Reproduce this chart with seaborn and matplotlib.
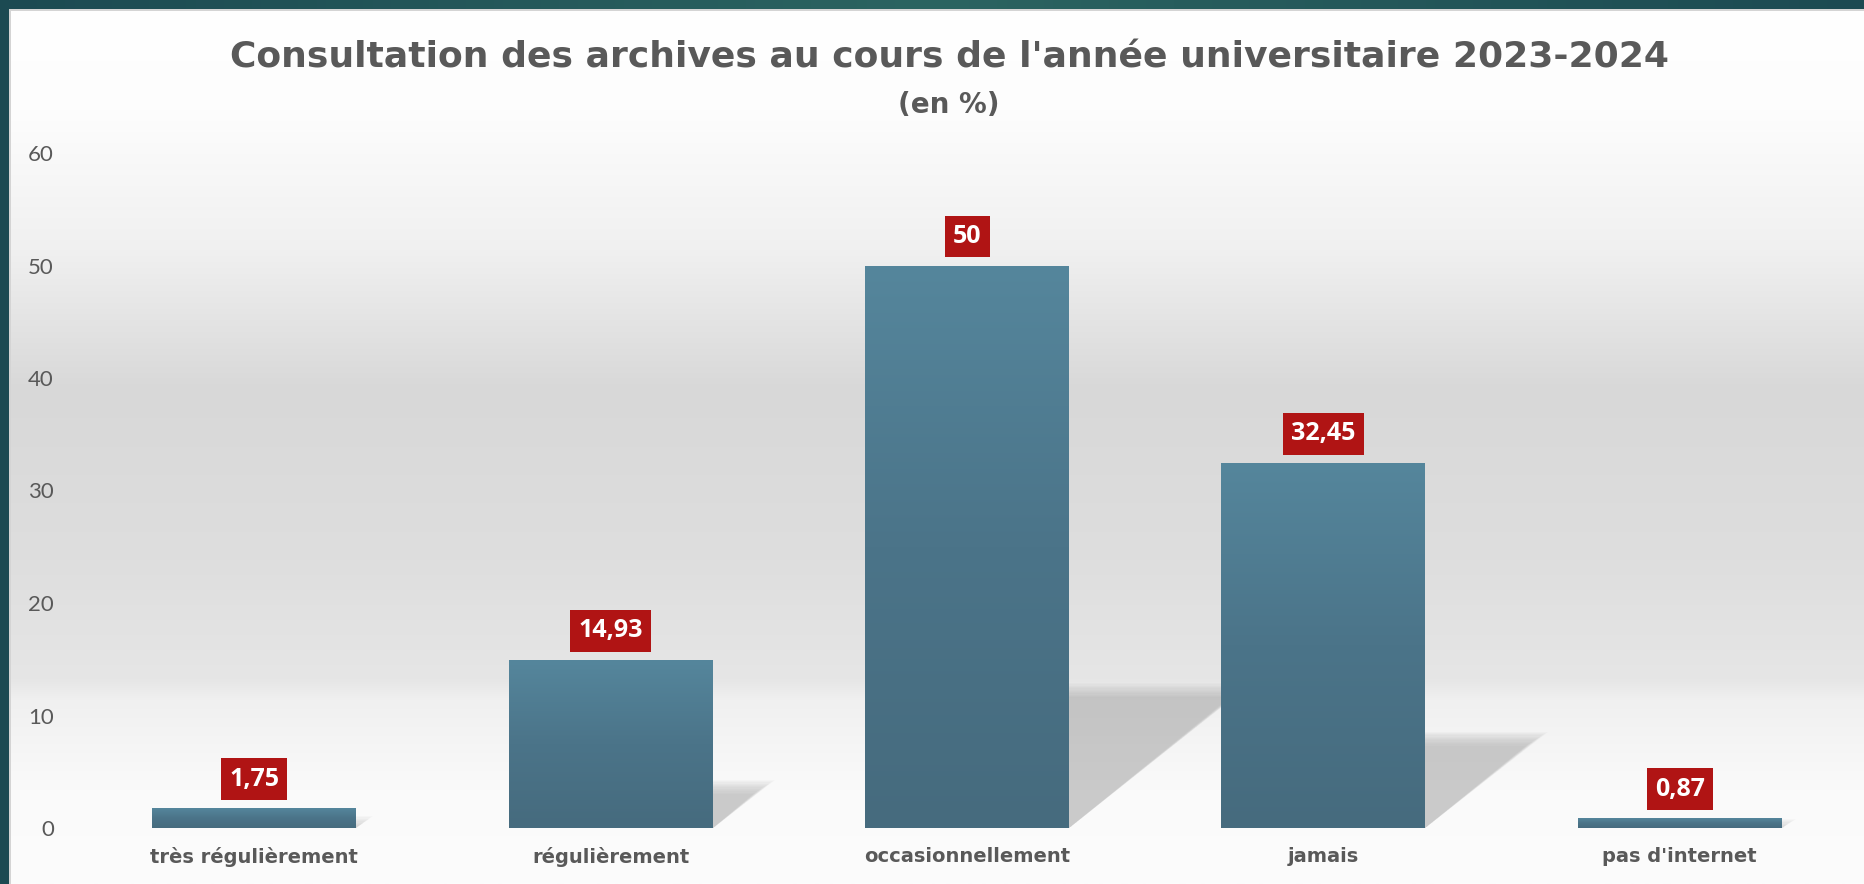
import numpy as np
import pandas as pd
import matplotlib
matplotlib.use("Agg")
import matplotlib.pyplot as plt
import seaborn as sns
from matplotlib.patches import Rectangle, Polygon
from matplotlib.colors import LinearSegmentedColormap

categories = ["très régulièrement", "régulièrement", "occasionnellement", "jamais", "pas d'internet"]
values = [1.75, 14.93, 50, 32.45, 0.87]
title = "Consultation des archives au cours de l'année universitaire 2023-2024"
subtitle = "(en %)"
yticks = [0, 10, 20, 30, 40, 50, 60]

df = pd.DataFrame({"cat": categories, "val": values})

sns.set_theme(style="white")
plt.rcParams["font.family"] = ["DejaVu Sans"]

W, H = 1864, 884
fig = plt.figure(figsize=(W / 100, H / 100), dpi=100)

# background gradient
bg = fig.add_axes([0, 0, 1, 1], zorder=0)
bg.set_axis_off()
ys = np.array([0, 10, 110, 250, 390, 560, 680, 700, 790, 884]) / H
gs = np.array([255, 255, 253, 240, 216, 222, 230, 240, 250, 252]) / 255
yy = np.linspace(0, 1, 600)
col = np.interp(yy, ys, gs)
img = np.repeat(col[:, None], 2, axis=1)
bg.imshow(np.dstack([img, img, img]), aspect="auto", extent=[0, 1, 1, 0], interpolation="bilinear")
# dark frame top and left
frame = LinearSegmentedColormap.from_list("fr", ["#1c4a52", "#2b6461", "#1c4a52"])
fx = np.linspace(0, 1, 200)[None, :]
bg.imshow(fx, cmap=frame, aspect="auto", extent=[0, 1, 9 / H, 0], zorder=3)
bg.add_patch(Rectangle((0, 0), 9 / W, 1, color="#1c4a52", zorder=3, lw=0))
bg.add_patch(Rectangle((9 / W, 9 / H), 1, 2 / H, color="#d4d4d4", zorder=2, lw=0))
bg.add_patch(Rectangle((9 / W, 9 / H), 2 / W, 1, color="#d4d4d4", zorder=2, lw=0))
bg.set_xlim(0, 1)
bg.set_ylim(1, 0)

ax_left, ax_right, ax_bottom, ax_top = 76, 1858, 828, 153
ax = fig.add_axes([ax_left / W, 1 - ax_bottom / H, (ax_right - ax_left) / W, (ax_bottom - ax_top) / H], zorder=1)
ax.patch.set_alpha(0)

sns.barplot(data=df, x="cat", y="val", ax=ax, width=0.572, color="#4f7e93", saturation=1)
ax.set_xlim(-0.5, len(categories) - 0.5)
ax.set_ylim(0, 60)

px_per_x = (ax_right - ax_left) / len(categories)
px_per_y = (ax_bottom - ax_top) / 60

grad = LinearSegmentedColormap.from_list("bar", ["#466b7e", "#4b7489", "#55869c"])
gimg = np.linspace(0, 1, 256)[:, None]

bars = list(ax.patches)
for p, v in zip(bars, values):
    x0, w = p.get_x(), p.get_width()
    # blurred perspective shadow
    h_shadow = 0.245 * v
    dx = 1.25 * h_shadow * px_per_y / px_per_x
    for k in np.linspace(7, -7, 12):
        gy = k / px_per_y
        gx = k / px_per_x
        top = max(h_shadow + gy, 0)
        poly = Polygon([(x0 + w, 0), (x0 + w, top), (x0 + w + dx + gx * 1.6, top)],
                       closed=True, facecolor="#a0a0a0", edgecolor="none", alpha=0.055, zorder=1)
        ax.add_patch(poly)
    # gradient fill
    p.set_facecolor("none")
    p.set_edgecolor("none")
    im = ax.imshow(gimg, cmap=grad, aspect="auto", extent=[x0, x0 + w, 0, v],
                   origin="lower", zorder=2, interpolation="bilinear")
    im.set_clip_path(p)
    ax.set_xlim(-0.5, len(categories) - 0.5)
    ax.set_ylim(0, 60)

for i, v in enumerate(values):
    lab = f"{v:g}".replace(".", ",")
    ax.annotate(lab, xy=(i, v), xytext=(0, 21), textcoords="offset points",
                ha="center", va="center", color="white", fontsize=18, fontweight="bold",
                family="Open Sans", zorder=5,
                bbox=dict(boxstyle="square,pad=0.33", fc="#b01414", ec="none"))

ax.set_yticks(yticks)
ax.set_yticklabels([str(t) for t in yticks], fontsize=16, color="#595959", family="Lato")
ax.set_xticks(range(len(categories)))
ax.set_xticklabels(categories, fontsize=14, color="#595959", fontweight="bold", family="DejaVu Sans")
ax.tick_params(axis="y", length=0, pad=16)
ax.tick_params(axis="x", length=0, pad=14)
ax.set_xlabel("")
ax.set_ylabel("")
sns.despine(ax=ax, left=True, bottom=True)
ax.grid(False)

fig.text(949 / W, 1 - 58 / H, title, ha="center", va="center", fontsize=26,
         fontweight="bold", color="#595959", family="DejaVu Sans")
fig.text(949 / W, 1 - 105 / H, subtitle, ha="center", va="center", fontsize=20,
         fontweight="bold", color="#595959", family="DejaVu Sans")

fig.savefig("out.png", dpi=100)
